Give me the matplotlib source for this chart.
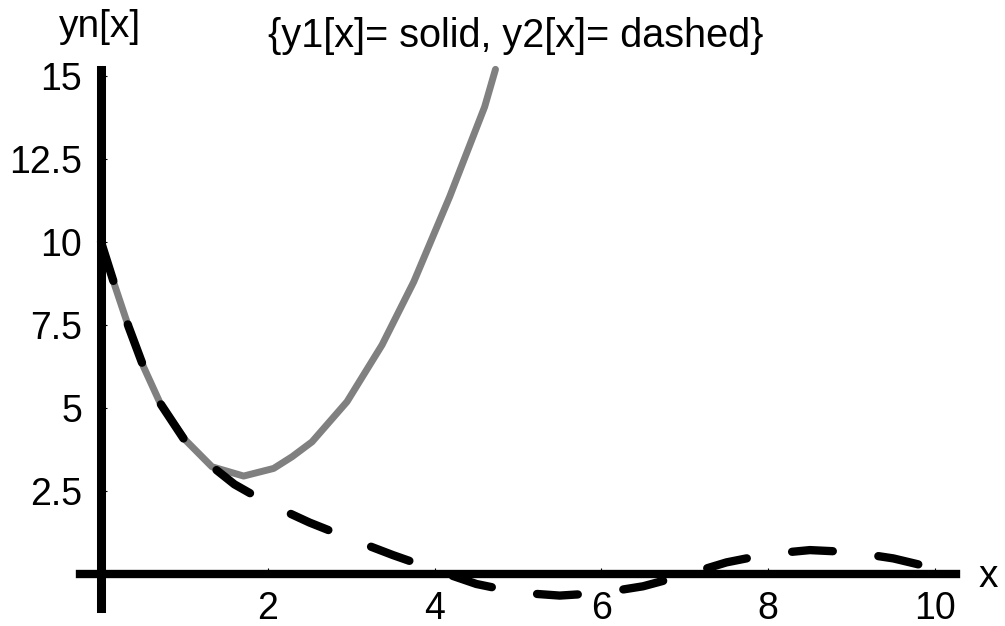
import matplotlib.pyplot as plt

plt.rcParams['font.family'] = ['Liberation Sans', 'DejaVu Sans']

# y1[x] (solid, grey)
x_solid = [0, 0.17, 0.33, 0.51, 0.71, 1.01, 1.33, 1.71, 2.07, 2.29, 2.53, 2.95,
           3.37, 3.75, 4.18, 4.60, 4.73]
y_solid = [10, 8.65, 7.45, 6.24, 5.14, 4.04, 3.23, 2.95, 3.18, 3.53, 3.98, 5.19,
           6.90, 8.80, 11.36, 14.07, 15.2]

# y2[x] (dashed, black)
x_dash = [0, 0.17, 0.33, 0.51, 0.71, 1.0, 1.3, 1.6, 2.0, 2.5, 3.0, 3.5, 4.0,
          4.5, 5.0, 5.5, 6.0, 6.5, 7.0, 7.5, 8.0, 8.5, 9.0, 9.5, 10]
y_dash = [10, 8.65, 7.45, 6.24, 5.14, 4.04, 3.3, 2.7, 2.13, 1.55, 1.05, 0.57, 0.13,
          -0.3, -0.56, -0.65, -0.57, -0.37, -0.03, 0.35, 0.60, 0.72, 0.66, 0.47, 0.17]

xticks = [2, 4, 6, 8, 10]
yticks = [2.5, 5, 7.5, 10, 12.5, 15]
ytick_labels = ['2.5', '5', '7.5', '10', '12.5', '15']

W, H = 1005, 626
fig = plt.figure(figsize=(W / 100, H / 100), dpi=100)
ax = fig.add_axes([80 / W, 18 / H, 876 / W, 538 / H])
ax.set_xlim(-0.252, 10.252)
ax.set_ylim(-1.024, 15.18)

ax.plot(x_solid, y_solid, color='#808080', lw=5, solid_capstyle='round',
        solid_joinstyle='round', clip_on=False)
ax.plot(x_dash, y_dash, color='black', lw=6, dashes=(4.9, 5.5),
        dash_capstyle='round', clip_on=False)

for s in ['top', 'right']:
    ax.spines[s].set_visible(False)
ax.spines['left'].set_position(('data', 0))
ax.spines['bottom'].set_position(('data', 0))
ax.spines['left'].set_linewidth(6.5)
ax.spines['bottom'].set_linewidth(6)

ax.set_xticks(xticks)
ax.set_xticklabels([str(v) for v in xticks])
ax.set_yticks(yticks)
ax.set_yticklabels(ytick_labels)
ax.tick_params(direction='in', length=4.3, width=0.8, labelsize=27)
ax.tick_params(axis='x', pad=12.5)
ax.tick_params(axis='y', pad=13.5)

fig.text(100 / W, 1 - 37 / H, 'yn[x]', ha='center', va='baseline', fontsize=28)
fig.text(516 / W, 1 - 47 / H, '{y1[x]= solid, y2[x]= dashed}', ha='center',
         va='baseline', fontsize=28.5)
fig.text(988 / W, 1 - 587 / H, 'x', ha='center', va='baseline', fontsize=28)

fig.savefig('out.png', dpi=100)
